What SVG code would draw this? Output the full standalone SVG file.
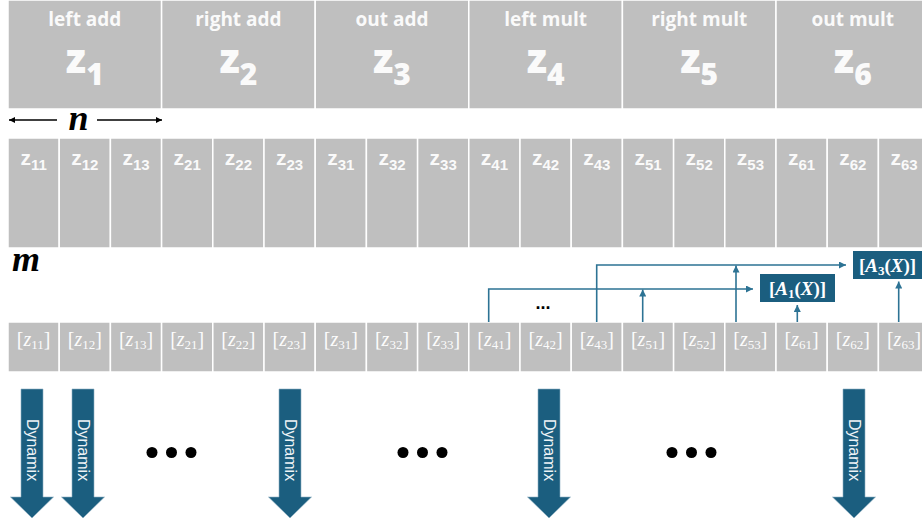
<svg xmlns="http://www.w3.org/2000/svg" width="922" height="525" viewBox="0 0 922 525">
<defs>
<style>
.cell{fill:#bfbfbf;stroke:#ffffff;stroke-width:1.5}
.hd{font-family:"Open Sans","Noto Sans",sans-serif;font-weight:700;font-size:19px;fill:#fafafa;text-anchor:middle}
.big{font-family:"Open Sans","Noto Sans",sans-serif;font-weight:800;font-size:40px;fill:#fafafa;text-anchor:middle}
.mid{font-family:"Liberation Sans",Arial,sans-serif;font-weight:700;font-size:21px;fill:#fafafa;text-anchor:middle}
.br{font-family:"Liberation Serif","Times New Roman",serif;font-size:20px;fill:#fcfcfc;text-anchor:middle}
.box{fill:#1b5e7f}
.bt{font-family:"Liberation Serif","Times New Roman",serif;font-weight:700;font-size:19px;fill:#ffffff;text-anchor:middle}
.con{fill:none;stroke:#2d7394;stroke-width:1.6}
.dyn{fill:#1b5e7f;stroke:#8fb0c2;stroke-width:0.6}
.dt{font-family:"Liberation Sans",Arial,sans-serif;font-size:16px;fill:#eef3f6;text-anchor:middle}
.lbl{font-family:"Liberation Serif","Times New Roman",serif;font-weight:700;font-style:italic;font-size:36px;fill:#000}
</style>
<marker id="ah" viewBox="0 0 10 10" refX="10" refY="5" markerWidth="7" markerHeight="7" markerUnits="userSpaceOnUse" orient="auto"><path d="M0,0 L10,5 L0,10 z" fill="#2d7394"/></marker>
<marker id="bk" viewBox="0 0 10 10" refX="10" refY="5" markerWidth="6" markerHeight="6" markerUnits="userSpaceOnUse" orient="auto-start-reverse"><path d="M0,0 L10,5 L0,10 z" fill="#000"/></marker>
</defs>
<rect width="922" height="525" fill="#ffffff"/>

<!-- top row -->
<g id="z1"><rect class="cell" x="8" y="0" width="153.6" height="109"/><text class="hd" x="84.8" y="26">left add</text><text class="big" x="84.8" y="73">z<tspan font-size="30" dy="12">1</tspan></text></g>
<g id="z2"><rect class="cell" x="161.6" y="0" width="153.6" height="109"/><text class="hd" x="238.4" y="26">right add</text><text class="big" x="238.4" y="73">z<tspan font-size="30" dy="12">2</tspan></text></g>
<g id="z3"><rect class="cell" x="315.2" y="0" width="153.6" height="109"/><text class="hd" x="392" y="26">out add</text><text class="big" x="392" y="73">z<tspan font-size="30" dy="12">3</tspan></text></g>
<g id="z4"><rect class="cell" x="468.8" y="0" width="153.6" height="109"/><text class="hd" x="545.6" y="26">left mult</text><text class="big" x="545.6" y="73">z<tspan font-size="30" dy="12">4</tspan></text></g>
<g id="z5"><rect class="cell" x="622.4" y="0" width="153.6" height="109"/><text class="hd" x="699.2" y="26">right mult</text><text class="big" x="699.2" y="73">z<tspan font-size="30" dy="12">5</tspan></text></g>
<g id="z6"><rect class="cell" x="776" y="0" width="153.6" height="109"/><text class="hd" x="852.8" y="26">out mult</text><text class="big" x="852.8" y="73">z<tspan font-size="30" dy="12">6</tspan></text></g>

<!-- n label -->
<g id="n-label">
<line x1="57" y1="120" x2="9" y2="120" stroke="#000" stroke-width="1.3" marker-end="url(#bk)"/>
<line x1="97" y1="120" x2="162" y2="120" stroke="#000" stroke-width="1.3" marker-end="url(#bk)"/>
<text class="lbl" x="78.5" y="130" text-anchor="middle">n</text>
</g>

<!-- second row -->
<g id="row2">
<g id="c11"><rect class="cell" x="8" y="138" width="51.2" height="110"/><text class="mid" x="33.6" y="165">z<tspan font-size="15" dy="5">11</tspan></text></g>
<g id="c12"><rect class="cell" x="59.2" y="138" width="51.2" height="110"/><text class="mid" x="84.8" y="165">z<tspan font-size="15" dy="5">12</tspan></text></g>
<g id="c13"><rect class="cell" x="110.4" y="138" width="51.2" height="110"/><text class="mid" x="136" y="165">z<tspan font-size="15" dy="5">13</tspan></text></g>
<g id="c21"><rect class="cell" x="161.6" y="138" width="51.2" height="110"/><text class="mid" x="187.2" y="165">z<tspan font-size="15" dy="5">21</tspan></text></g>
<g id="c22"><rect class="cell" x="212.8" y="138" width="51.2" height="110"/><text class="mid" x="238.4" y="165">z<tspan font-size="15" dy="5">22</tspan></text></g>
<g id="c23"><rect class="cell" x="264" y="138" width="51.2" height="110"/><text class="mid" x="289.6" y="165">z<tspan font-size="15" dy="5">23</tspan></text></g>
<g id="c31"><rect class="cell" x="315.2" y="138" width="51.2" height="110"/><text class="mid" x="340.8" y="165">z<tspan font-size="15" dy="5">31</tspan></text></g>
<g id="c32"><rect class="cell" x="366.4" y="138" width="51.2" height="110"/><text class="mid" x="392" y="165">z<tspan font-size="15" dy="5">32</tspan></text></g>
<g id="c33"><rect class="cell" x="417.6" y="138" width="51.2" height="110"/><text class="mid" x="443.2" y="165">z<tspan font-size="15" dy="5">33</tspan></text></g>
<g id="c41"><rect class="cell" x="468.8" y="138" width="51.2" height="110"/><text class="mid" x="494.4" y="165">z<tspan font-size="15" dy="5">41</tspan></text></g>
<g id="c42"><rect class="cell" x="520" y="138" width="51.2" height="110"/><text class="mid" x="545.6" y="165">z<tspan font-size="15" dy="5">42</tspan></text></g>
<g id="c43"><rect class="cell" x="571.2" y="138" width="51.2" height="110"/><text class="mid" x="596.8" y="165">z<tspan font-size="15" dy="5">43</tspan></text></g>
<g id="c51"><rect class="cell" x="622.4" y="138" width="51.2" height="110"/><text class="mid" x="648" y="165">z<tspan font-size="15" dy="5">51</tspan></text></g>
<g id="c52"><rect class="cell" x="673.6" y="138" width="51.2" height="110"/><text class="mid" x="699.2" y="165">z<tspan font-size="15" dy="5">52</tspan></text></g>
<g id="c53"><rect class="cell" x="724.8" y="138" width="51.2" height="110"/><text class="mid" x="750.4" y="165">z<tspan font-size="15" dy="5">53</tspan></text></g>
<g id="c61"><rect class="cell" x="776" y="138" width="51.2" height="110"/><text class="mid" x="801.6" y="165">z<tspan font-size="15" dy="5">61</tspan></text></g>
<g id="c62"><rect class="cell" x="827.2" y="138" width="51.2" height="110"/><text class="mid" x="852.8" y="165">z<tspan font-size="15" dy="5">62</tspan></text></g>
<g id="c63"><rect class="cell" x="878.4" y="138" width="51.2" height="110"/><text class="mid" x="904" y="165">z<tspan font-size="15" dy="5">63</tspan></text></g>
</g>

<text id="m-label" class="lbl" x="12" y="271">m</text>

<!-- third row -->
<g id="row3">
<g id="b11"><rect class="cell" x="8" y="322" width="51.2" height="50"/><text class="br" x="33.6" y="346">[<tspan font-style="italic">z</tspan><tspan font-size="13" dy="3">11</tspan><tspan dy="-3">]</tspan></text></g>
<g id="b12"><rect class="cell" x="59.2" y="322" width="51.2" height="50"/><text class="br" x="84.8" y="346">[<tspan font-style="italic">z</tspan><tspan font-size="13" dy="3">12</tspan><tspan dy="-3">]</tspan></text></g>
<g id="b13"><rect class="cell" x="110.4" y="322" width="51.2" height="50"/><text class="br" x="136" y="346">[<tspan font-style="italic">z</tspan><tspan font-size="13" dy="3">13</tspan><tspan dy="-3">]</tspan></text></g>
<g id="b21"><rect class="cell" x="161.6" y="322" width="51.2" height="50"/><text class="br" x="187.2" y="346">[<tspan font-style="italic">z</tspan><tspan font-size="13" dy="3">21</tspan><tspan dy="-3">]</tspan></text></g>
<g id="b22"><rect class="cell" x="212.8" y="322" width="51.2" height="50"/><text class="br" x="238.4" y="346">[<tspan font-style="italic">z</tspan><tspan font-size="13" dy="3">22</tspan><tspan dy="-3">]</tspan></text></g>
<g id="b23"><rect class="cell" x="264" y="322" width="51.2" height="50"/><text class="br" x="289.6" y="346">[<tspan font-style="italic">z</tspan><tspan font-size="13" dy="3">23</tspan><tspan dy="-3">]</tspan></text></g>
<g id="b31"><rect class="cell" x="315.2" y="322" width="51.2" height="50"/><text class="br" x="340.8" y="346">[<tspan font-style="italic">z</tspan><tspan font-size="13" dy="3">31</tspan><tspan dy="-3">]</tspan></text></g>
<g id="b32"><rect class="cell" x="366.4" y="322" width="51.2" height="50"/><text class="br" x="392" y="346">[<tspan font-style="italic">z</tspan><tspan font-size="13" dy="3">32</tspan><tspan dy="-3">]</tspan></text></g>
<g id="b33"><rect class="cell" x="417.6" y="322" width="51.2" height="50"/><text class="br" x="443.2" y="346">[<tspan font-style="italic">z</tspan><tspan font-size="13" dy="3">33</tspan><tspan dy="-3">]</tspan></text></g>
<g id="b41"><rect class="cell" x="468.8" y="322" width="51.2" height="50"/><text class="br" x="494.4" y="346">[<tspan font-style="italic">z</tspan><tspan font-size="13" dy="3">41</tspan><tspan dy="-3">]</tspan></text></g>
<g id="b42"><rect class="cell" x="520" y="322" width="51.2" height="50"/><text class="br" x="545.6" y="346">[<tspan font-style="italic">z</tspan><tspan font-size="13" dy="3">42</tspan><tspan dy="-3">]</tspan></text></g>
<g id="b43"><rect class="cell" x="571.2" y="322" width="51.2" height="50"/><text class="br" x="596.8" y="346">[<tspan font-style="italic">z</tspan><tspan font-size="13" dy="3">43</tspan><tspan dy="-3">]</tspan></text></g>
<g id="b51"><rect class="cell" x="622.4" y="322" width="51.2" height="50"/><text class="br" x="648" y="346">[<tspan font-style="italic">z</tspan><tspan font-size="13" dy="3">51</tspan><tspan dy="-3">]</tspan></text></g>
<g id="b52"><rect class="cell" x="673.6" y="322" width="51.2" height="50"/><text class="br" x="699.2" y="346">[<tspan font-style="italic">z</tspan><tspan font-size="13" dy="3">52</tspan><tspan dy="-3">]</tspan></text></g>
<g id="b53"><rect class="cell" x="724.8" y="322" width="51.2" height="50"/><text class="br" x="750.4" y="346">[<tspan font-style="italic">z</tspan><tspan font-size="13" dy="3">53</tspan><tspan dy="-3">]</tspan></text></g>
<g id="b61"><rect class="cell" x="776" y="322" width="51.2" height="50"/><text class="br" x="801.6" y="346">[<tspan font-style="italic">z</tspan><tspan font-size="13" dy="3">61</tspan><tspan dy="-3">]</tspan></text></g>
<g id="b62"><rect class="cell" x="827.2" y="322" width="51.2" height="50"/><text class="br" x="852.8" y="346">[<tspan font-style="italic">z</tspan><tspan font-size="13" dy="3">62</tspan><tspan dy="-3">]</tspan></text></g>
<g id="b63"><rect class="cell" x="878.4" y="322" width="51.2" height="50"/><text class="br" x="904" y="346">[<tspan font-style="italic">z</tspan><tspan font-size="13" dy="3">63</tspan><tspan dy="-3">]</tspan></text></g>
</g>

<!-- boxes -->
<g id="A1"><rect class="box" x="760" y="274" width="75" height="28"/><text class="bt" x="797.5" y="295">[<tspan font-style="italic">A</tspan><tspan font-size="13" dy="3">1</tspan><tspan dy="-3">(</tspan><tspan font-style="italic">X</tspan>)]</text></g>
<g id="A3"><rect class="box" x="853" y="251" width="70" height="28"/><text class="bt" x="887.5" y="272">[<tspan font-style="italic">A</tspan><tspan font-size="13" dy="3">3</tspan><tspan dy="-3">(</tspan><tspan font-style="italic">X</tspan>)]</text></g>

<!-- connectors -->
<g id="connectors">
<path class="con" d="M488.7,322 V289 H753" marker-end="url(#ah)"/>
<path class="con" d="M596.7,322 V265 H846" marker-end="url(#ah)"/>
<path class="con" d="M642.7,322 V289.5" marker-end="url(#ah)"/>
<path class="con" d="M736,322 V265.5" marker-end="url(#ah)"/>
<path class="con" d="M797.3,322 V305" marker-end="url(#ah)"/>
<path class="con" d="M898.7,322 V281.5" marker-end="url(#ah)"/>
</g>
<text id="small-dots" x="543" y="309" font-family="Liberation Sans,Arial,sans-serif" font-weight="bold" font-size="18" text-anchor="middle" fill="#000">...</text>

<!-- Dynamix arrows -->
<g id="dyn1"><polygon class="dyn" points="21,389 43,389 43,497 53.5,497 32,518 10.5,497 21,497"/><text class="dt" transform="translate(26.5,450) rotate(90)">Dynamix</text></g>
<g id="dyn2"><polygon class="dyn" points="72,389 94,389 94,497 104.5,497 83,518 61.5,497 72,497"/><text class="dt" transform="translate(77.5,450) rotate(90)">Dynamix</text></g>
<g id="dyn3"><polygon class="dyn" points="279,389 301,389 301,497 311.5,497 290,518 268.5,497 279,497"/><text class="dt" transform="translate(284.5,450) rotate(90)">Dynamix</text></g>
<g id="dyn4"><polygon class="dyn" points="538,389 560,389 560,497 570.5,497 549,518 527.5,497 538,497"/><text class="dt" transform="translate(543.5,450) rotate(90)">Dynamix</text></g>
<g id="dyn5"><polygon class="dyn" points="843,389 865,389 865,497 875.5,497 854,518 832.5,497 843,497"/><text class="dt" transform="translate(848.5,450) rotate(90)">Dynamix</text></g>

<g id="dots" fill="#000">
<circle cx="152" cy="452.5" r="5.5"/><circle cx="171.5" cy="452.5" r="5.5"/><circle cx="191" cy="452.5" r="5.5"/>
<circle cx="403" cy="452.5" r="5.5"/><circle cx="422.5" cy="452.5" r="5.5"/><circle cx="442" cy="452.5" r="5.5"/>
<circle cx="672" cy="452.5" r="5.5"/><circle cx="691.5" cy="452.5" r="5.5"/><circle cx="711" cy="452.5" r="5.5"/>
</g>
</svg>
